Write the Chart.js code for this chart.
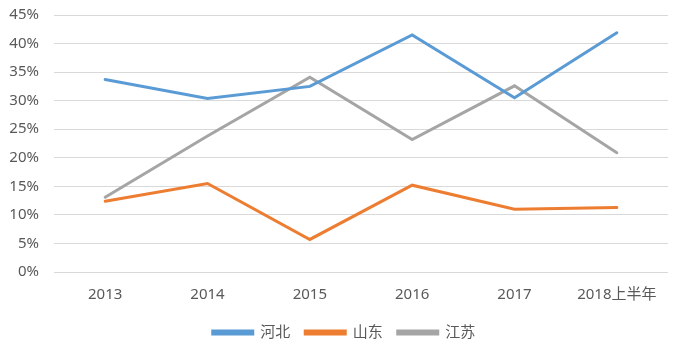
<!DOCTYPE html>
<html>
<head>
<meta charset="utf-8">
<script src="https://cdn.jsdelivr.net/npm/chart.js@4"></script>
<style>
  html, body { margin: 0; padding: 0; background: #fff; }
  #wrap { width: 678px; height: 347px; overflow: hidden; }
  #myChart { display: block; margin-top: -9px; }
</style>
</head>
<body>
<div id="wrap"><canvas id="myChart" width="678" height="356"></canvas></div>
<script>
const years = ["2013", "2014", "2015", "2016", "2017", "2018上半年"];
const hebei = [33.7, 30.4, 32.5, 41.5, 30.5, 41.9];
const shandong = [12.4, 15.5, 5.7, 15.2, 11.0, 11.3];
const jiangsu = [13.1, 23.8, 34.1, 23.2, 32.6, 20.9];
const yTicks = [0, 5, 10, 15, 20, 25, 30, 35, 40, 45];

const font = "'Noto Sans', 'Noto Sans CJK SC', sans-serif";
const textColor = "#595959";

const line = (label, data, color) => ({
    label: label,
    data: data,
    borderColor: color,
    backgroundColor: color,
    borderWidth: 3,
    pointRadius: 0,
    tension: 0,
    borderCapStyle: "round",
});

// nudge the legend a little to the right, centred under the whole page
const legendShift = {
    id: "legendShift",
    afterLayout(chart) {
        chart.legend.left += 10;
        chart.legend.right += 10;
    },
};

new Chart(document.getElementById("myChart"), {
    type: "line",
    data: {
        labels: years,
        datasets: [
            line("河北", hebei, "#5B9BD5"),
            line("山东", shandong, "#ED7D31"),
            line("江苏", jiangsu, "#A5A5A5"),
        ],
    },
    options: {
        responsive: false,
        animation: false,
        layout: { padding: { left: 0, right: 10, top: 0, bottom: -3 } },
        scales: {
            x: {
                offset: true,
                afterFit: (scale) => { scale.height = 38; },
                grid: { display: false, drawTicks: false },
                border: { display: false },
                ticks: { color: textColor, font: { family: font, size: 15 }, padding: 14, maxRotation: 0 },
            },
            y: {
                min: 0,
                max: 45,
                afterFit: (scale) => { scale.width = 54; },
                afterBuildTicks: (scale) => { scale.ticks = yTicks.map((v) => ({ value: v })); },
                grid: { color: "#D9D9D9", lineWidth: 1, drawTicks: false },
                border: { display: false },
                ticks: {
                    color: textColor,
                    font: { family: font, size: 15 },
                    padding: 15,
                    callback: (v) => v + "%",
                },
            },
        },
        plugins: {
            legend: {
                position: "bottom",
                labels: {
                    boxWidth: 40,
                    boxHeight: 3,
                    padding: 15,
                    color: textColor,
                    font: { family: font, size: 15 },
                },
            },
            tooltip: { enabled: false },
        },
    },
    plugins: [legendShift],
});
</script>
</body>
</html>
